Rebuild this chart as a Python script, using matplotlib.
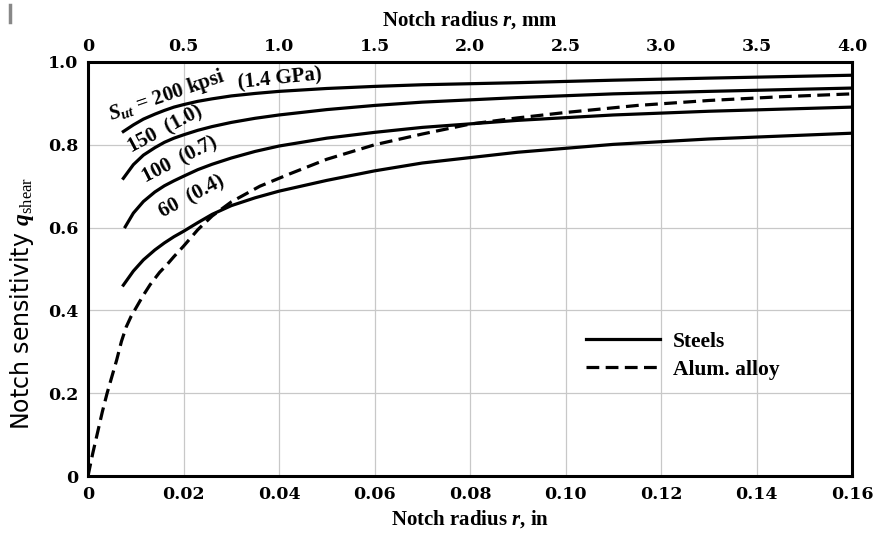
import matplotlib
matplotlib.use('Agg')
import matplotlib.pyplot as plt
from matplotlib.lines import Line2D

# notch radius (in) and notch sensitivity
r_200 = [0.0074, 0.0095, 0.0116, 0.014, 0.016, 0.018, 0.02, 0.023, 0.026, 0.03, 0.035, 0.04,
         0.05, 0.06, 0.07, 0.09, 0.11, 0.13, 0.16]
q_200 = [0.832, 0.848, 0.862, 0.874, 0.883, 0.891, 0.897, 0.905, 0.911, 0.918, 0.924, 0.929,
         0.936, 0.941, 0.945, 0.950, 0.956, 0.961, 0.968]

r_150 = [0.0074, 0.0095, 0.0116, 0.014, 0.016, 0.018, 0.02, 0.023, 0.026, 0.03, 0.035, 0.04,
         0.05, 0.06, 0.07, 0.09, 0.11, 0.13, 0.16]
q_150 = [0.719, 0.752, 0.775, 0.793, 0.806, 0.816, 0.824, 0.835, 0.844, 0.854, 0.864, 0.872,
         0.885, 0.895, 0.903, 0.914, 0.923, 0.929, 0.937]

r_100 = [0.0078, 0.0095, 0.0116, 0.014, 0.016, 0.018, 0.02, 0.023, 0.026, 0.03, 0.035, 0.04,
         0.05, 0.06, 0.07, 0.09, 0.11, 0.13, 0.16]
q_100 = [0.602, 0.635, 0.663, 0.686, 0.701, 0.713, 0.724, 0.740, 0.753, 0.768, 0.784, 0.797,
         0.816, 0.830, 0.842, 0.859, 0.872, 0.881, 0.891]

r_60 = [0.0074, 0.0095, 0.0116, 0.014, 0.016, 0.018, 0.02, 0.023, 0.026, 0.03, 0.035, 0.04,
        0.05, 0.06, 0.07, 0.09, 0.11, 0.13, 0.16]
q_60 = [0.461, 0.495, 0.522, 0.546, 0.563, 0.578, 0.591, 0.612, 0.632, 0.653, 0.672, 0.688,
        0.714, 0.737, 0.756, 0.782, 0.801, 0.814, 0.828]

r_alum = [0, 0.001, 0.002, 0.003, 0.004, 0.005, 0.006, 0.007, 0.008, 0.009, 0.010, 0.0115,
          0.013, 0.015, 0.0165, 0.018, 0.02, 0.023, 0.026, 0.03, 0.036, 0.0423, 0.05, 0.06,
          0.07, 0.08, 0.09, 0.10, 0.115, 0.13, 0.145, 0.16]
q_alum = [0, 0.055, 0.105, 0.155, 0.20, 0.24, 0.28, 0.325, 0.36, 0.385, 0.405, 0.435,
          0.462, 0.492, 0.510, 0.530, 0.555, 0.595, 0.628, 0.662, 0.70, 0.73, 0.765, 0.80,
          0.826, 0.85, 0.865, 0.878, 0.895, 0.907, 0.916, 0.923]

x_ticks = [0, 0.02, 0.04, 0.06, 0.08, 0.10, 0.12, 0.14, 0.16]
x_labels = ['0', '0.02', '0.04', '0.06', '0.08', '0.10', '0.12', '0.14', '0.16']
y_ticks = [0, 0.2, 0.4, 0.6, 0.8, 1.0]
y_labels = ['0', '0.2', '0.4', '0.6', '0.8', '1.0']
mm_ticks = [0, 0.5, 1.0, 1.5, 2.0, 2.5, 3.0, 3.5, 4.0]
mm_labels = ['0', '0.5', '1.0', '1.5', '2.0', '2.5', '3.0', '3.5', '4.0']

serif = 'Liberation Serif'
plt.rcParams['font.family'] = serif
plt.rcParams['mathtext.fontset'] = 'custom'
plt.rcParams['mathtext.rm'] = serif
plt.rcParams['mathtext.it'] = serif + ':italic:bold'
plt.rcParams['mathtext.bf'] = serif + ':bold'

fig = plt.figure(figsize=(8.73, 5.38), dpi=100)
ax = fig.add_axes([0.1008, 0.1152, 0.8752, 0.7696])

ax.grid(True, color='#c8c8c8', lw=0.9)
ax.set_axisbelow(True)

lw = 2.3
ax.plot(r_200, q_200, color='black', lw=lw)
ax.plot(r_150, q_150, color='black', lw=lw)
ax.plot(r_100, q_100, color='black', lw=lw)
ax.plot(r_60, q_60, color='black', lw=lw, label='Steels')
ax.plot(r_alum, q_alum, color='black', lw=lw, ls=(0, (4.0, 2.0)), label='Alum. alloy')

tickfont = dict(family='DejaVu Serif', weight='bold', size=12.5)

ax.set_xlim(0, 0.16)
ax.set_ylim(0, 1.0)
ax.set_xticks(x_ticks)
ax.set_xticklabels(x_labels, fontdict=tickfont)
ax.set_yticks(y_ticks)
ax.set_yticklabels(y_labels, fontdict=tickfont)
ax.tick_params(length=0, pad=7)
for s in ax.spines.values():
    s.set_linewidth(2.2)

top = ax.secondary_xaxis('top', functions=(lambda x: x * 25, lambda x: x / 25))
top.set_xticks(mm_ticks)
top.set_xticklabels(mm_labels, fontdict=tickfont)
top.tick_params(length=0, pad=5)
top.set_xlabel('Notch radius $\\mathit{r}$, mm', fontsize=15, fontweight='bold', labelpad=9)

ax.set_xlabel('Notch radius $\\mathit{r}$, in', fontsize=15, fontweight='bold', labelpad=4)
ax.set_ylabel('Notch sensitivity $q_{\\mathrm{shear}}$', fontsize=17, family=['DejaVu Sans'])
ax.yaxis.set_label_coords(-0.068, 0.418)

tk = dict(fontsize=15, fontweight='bold', ha='center', va='center')
ax.text(0.0165, 0.918, '$S_{ut}$ = 200 kpsi', rotation=19, **tk)
ax.text(0.0402, 0.958, '(1.4 GPa)', rotation=6, **tk)
ax.text(0.0163, 0.836, '150  (1.0)', rotation=28, **tk)
ax.text(0.0193, 0.763, '100  (0.7)', rotation=27, **tk)
ax.text(0.0218, 0.674, '60  (0.4)', rotation=28, **tk)

leg = ax.legend(loc='upper left', bbox_to_anchor=(0.627, 0.395), frameon=False,
                handlelength=3.4, handletextpad=0.6, fontsize=15.5, labelspacing=0.35)
for t in leg.get_texts():
    t.set_fontweight('bold')

fig.add_artist(Line2D([0.0115, 0.0115], [0.96, 0.99], color='#888888', lw=2.5))

fig.savefig('out.png', dpi=100)
